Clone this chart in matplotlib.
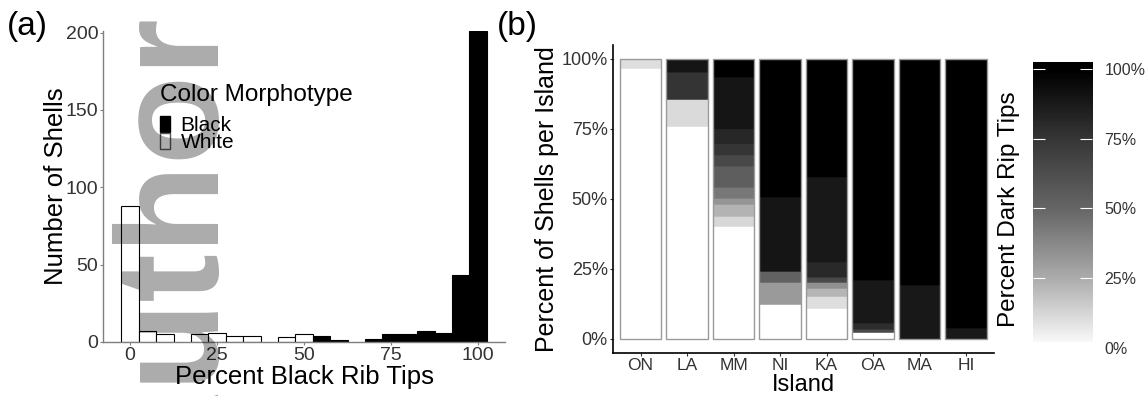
import numpy as np
import matplotlib
matplotlib.use("Agg")
import matplotlib.pyplot as plt
from matplotlib.patches import Patch
from matplotlib.colors import LinearSegmentedColormap

plt.rcParams['font.family'] = 'Liberation Sans'

# (a) histogram counts, 5-unit bins centred on 0, 5, ..., 100
bin_centers = np.arange(0, 101, 5)
white_counts = [88, 7, 5, 0, 5, 6, 4, 4, 0, 3, 5, 0, 0, 0, 0, 0, 0, 0, 0, 0, 0]
black_counts = [0, 0, 0, 0, 0, 0, 0, 0, 0, 0, 0, 4, 1, 0, 2, 5, 5, 7, 6, 43, 201]

# (b) share of shells per island, split by percent dark rib tips
islands = ["ON", "LA", "MM", "NI", "KA", "OA", "MA", "HI"]
seg_dark = [
    [0, 10],
    [0, 11, 76, 90],
    [0, 12, 23, 33, 44, 54, 66, 75, 82, 90, 100],
    [0, 31, 52, 90, 100],
    [0, 10, 22, 35, 65, 81, 89, 100],
    [0, 65, 79, 89, 100],
    [89, 100],
    [88, 100],
]
seg_share = [
    [96.7, 3.3],
    [76.2, 9.5, 9.8, 4.5],
    [40.5, 3.5, 4.1, 2.4, 3.9, 7.5, 3.8, 3.8, 5.5, 18.7, 6.3],
    [12.4, 7.8, 4.1, 26.5, 49.2],
    [11.2, 4.3, 2.8, 2.2, 1.8, 5.3, 30.4, 42.0],
    [2.4, 1.2, 2.0, 15.4, 79.0],
    [19.3, 80.7],
    [4.0, 96.0],
]
pct_ticks = [0, 0.25, 0.5, 0.75, 1.0]
pct_labels = ["0%", "25%", "50%", "75%", "100%"]

cmap = LinearSegmentedColormap.from_list(
    "dark", [(0, "#ffffff"), (0.25, "#ababab"), (0.5, "#666666"),
             (0.75, "#363636"), (1.0, "#000000")])

fig = plt.figure(figsize=(11.46, 3.96), dpi=100)

# ---- panel (a)
ax1 = fig.add_axes([0.0899, 0.1364, 0.3508, 0.7854])
w = np.array(white_counts)
b = np.array(black_counts)
ax1.bar(bin_centers[w > 0], w[w > 0], width=5, color='white', edgecolor='black', linewidth=0.8)
ax1.bar(bin_centers[b > 0], b[b > 0], width=5, color='black', edgecolor='black', linewidth=0.8)
ax1.set_xlim(-7.75, 107.75)
ax1.set_ylim(0, 201)
ax1.set_xticks([0, 25, 50, 75, 100])
ax1.set_yticks([0, 50, 100, 150, 200])
for s in ['top', 'right']:
    ax1.spines[s].set_visible(False)
for s in ['left', 'bottom']:
    ax1.spines[s].set_color('#7f7f7f')
    ax1.spines[s].set_linewidth(1)
ax1.tick_params(length=2.5, width=0.8, color='#7f7f7f', labelcolor='#333333',
                labelsize=14, pad=1)
ax1.set_xlabel('Percent Black Rib Tips', fontsize=18.5, va='center')
ax1.xaxis.set_label_coords(0.5, -0.1125)
ax1.set_ylabel('Number of Shells', fontsize=18.5, va='center')
ax1.yaxis.set_label_coords(-0.118, 0.5)

handles = [Patch(facecolor='black', edgecolor='black'),
           Patch(facecolor='white', edgecolor='#555555')]
ax1.legend(handles, ['Black', 'White'], loc='upper left', bbox_to_anchor=(0.1418, 0.727),
           frameon=False, fontsize=15, handlelength=0.48, handleheight=0.82,
           handletextpad=0.5, labelspacing=-0.12, borderpad=0, borderaxespad=0)
ax1.text(0.1418, 0.775, 'Color Morphotype', transform=ax1.transAxes,
         fontsize=17.5, va='baseline', ha='left')

# ---- panel (b)
ax2 = fig.add_axes([0.5346, 0.1086, 0.3327, 0.7778])
x = np.arange(1, len(islands) + 1)
for i in range(len(islands)):
    share = np.array(seg_share[i]) / 100
    bottoms = np.concatenate([[0], np.cumsum(share)[:-1]])
    cols = cmap(np.array(seg_dark[i]) / 100)
    ax2.bar(np.full(len(share), x[i]), share, bottom=bottoms, width=0.9,
            color=cols, edgecolor=cols, linewidth=0.4)
totals = [sum(s) / 100 for s in seg_share]
ax2.bar(x, totals, width=0.9, fill=False, edgecolor='#9a9a9a', linewidth=1)
ax2.set_xlim(0.4, 8.6)
ax2.set_ylim(-0.05, 1.05)
ax2.set_xticks(x)
ax2.set_xticklabels(islands)
ax2.set_yticks(pct_ticks)
ax2.set_yticklabels(pct_labels)
for s in ['top', 'right']:
    ax2.spines[s].set_visible(False)
for s in ['left', 'bottom']:
    ax2.spines[s].set_linewidth(1.2)
ax2.tick_params(axis='y', length=2.5, width=0.8, color='#333333', labelcolor='#333333',
                labelsize=13, pad=1)
ax2.tick_params(axis='x', length=2.5, width=0.8, color='#333333', labelcolor='#333333',
                labelsize=12.5, pad=1)
ax2.set_xlabel('Island', fontsize=17, va='center')
ax2.xaxis.set_label_coords(0.5, -0.104)
ax2.set_ylabel('Percent of Shells per Island', fontsize=18, va='center')
ax2.yaxis.set_label_coords(-0.171, 0.5)

# ---- colour scale
cax = fig.add_axes([0.9014, 0.1212, 0.0515, 0.7222])
grad = np.linspace(0.0215, 1.025, 256)[:, None]
cax.imshow(grad, cmap=cmap, vmin=0, vmax=1, extent=[0, 1, 0.0215, 1.025],
           origin='lower', aspect='auto')
cax.set_xlim(0, 1)
cax.set_ylim(0, 1.025)
for s in cax.spines.values():
    s.set_visible(False)
cax.set_xticks([])
cax.set_yticks(pct_ticks)
cax.set_yticklabels(pct_labels)
cax.tick_params(axis='y', direction='in', length=8.6, width=0.8, color='white',
                left=True, right=True, labelleft=False, labelright=True,
                labelsize=11.5, labelcolor='#333333', pad=9)
cax.set_ylabel('Percent Dark Rip Tips', fontsize=17.5, va='center')
cax.yaxis.set_label_coords(-0.41, 0.486)

fig.text(7 / 1146, 1 - 35 / 396, '(a)', fontsize=24, va='baseline')
fig.text(497 / 1146, 1 - 35 / 396, '(b)', fontsize=24, va='baseline')

# manuscript watermark
fig.text(215 / 1146, 1 - 492 / 396, 'Author', rotation=90, rotation_mode='anchor',
         ha='left', va='baseline', fontsize=105, fontweight='bold',
         color='black', alpha=0.33, zorder=10)

fig.savefig('out.png', dpi=100)
